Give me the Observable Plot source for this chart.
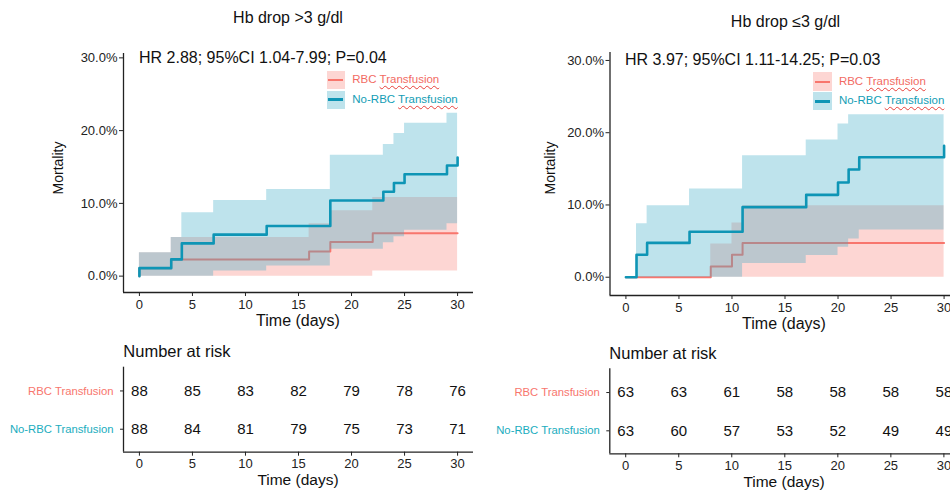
<!DOCTYPE html>
<html>
<head>
<meta charset="utf-8">
<script src="https://cdn.jsdelivr.net/npm/d3@7"></script>
<script src="https://cdn.jsdelivr.net/npm/@observablehq/plot@0.6"></script>
<style>
  html, body { margin: 0; padding: 0; background: #fff; }
  #page { position: relative; width: 950px; height: 492px; overflow: hidden; background: #fff;
          font-family: "Liberation Sans", Arial, Helvetica, sans-serif; color: #111; }
  .abs { position: absolute; white-space: nowrap; line-height: 1; }
  .wavy { text-decoration: underline wavy #e8403a; text-decoration-thickness: 1px; text-underline-offset: 2px; }
</style>
</head>
<body>
<div id="page"></div>
<script>
// ---------------- data ----------------
const xTicks = [0, 5, 10, 15, 20, 25, 30];
const yTicks = [0, 10, 20, 30];
const groups = ["RBC Transfusion", "No-RBC Transfusion"];

// Left panel: Hb drop >3 g/dl (cumulative mortality %, 95% CI)
const leftRbcTime  = [0, 0, 3, 16, 18, 22, 30];
const leftRbcEst   = [0, 1.1, 2.3, 3.4, 4.7, 5.9, 5.9];
const leftRbcLower = [0, 0, 0, 0, 0, 0.7, 0.7];
const leftRbcUpper = [0, 3.2, 5.3, 7.2, 9.0, 10.8, 10.8];

const leftNoTime  = [0, 0, 3, 4, 7, 12, 18, 23, 24, 25, 29, 30];
const leftNoEst   = [0, 1.1, 2.3, 4.5, 5.7, 6.9, 10.4, 11.6, 12.8, 14.0, 15.2, 16.3];
const leftNoLower = [0, 0, 0, 0, 0.7, 1.4, 3.7, 4.6, 5.4, 6.3, 7.2, 7.2];
const leftNoUpper = [0, 3.2, 5.3, 8.7, 10.4, 11.9, 16.6, 18.1, 19.6, 21.0, 22.4, 22.4];

const leftRiskRbc = [88, 85, 83, 82, 79, 78, 76];
const leftRiskNo  = [88, 84, 81, 79, 75, 73, 71];

// Right panel: Hb drop ≤3 g/dl
const rightRbcTime  = [0, 8, 10, 11, 30];
const rightRbcEst   = [0, 1.5, 3.1, 4.75, 4.75];
const rightRbcLower = [0, 0, 0, 0, 0];
const rightRbcUpper = [0, 4.6, 7.5, 9.9, 9.9];

const rightNoTime  = [0, 1, 2, 6, 11, 17, 20, 21, 22, 30];
const rightNoEst   = [0, 3.1, 4.75, 6.3, 9.7, 11.4, 13.1, 14.9, 16.6, 18.2];
const rightNoLower = [0, 0, 0, 0, 1.9, 3.0, 4.15, 5.3, 6.55, 6.55];
const rightNoUpper = [0, 7.4, 9.9, 12.2, 16.8, 19.0, 21.2, 22.5, 22.5, 22.5];

const rightRiskRbc = [63, 63, 61, 58, 58, 58, 58];
const rightRiskNo  = [63, 60, 57, 53, 52, 49, 49];

// ---------------- styles ----------------
const FONT = '"Liberation Sans", Arial, Helvetica, sans-serif';
const RED = "#F8766D";
const PINK_OP = 0.3;
const BLUE = "#0E95B5";
const BLUE_BAND = "#3BAAC5";
const BLUE_OP = 0.33;
const AX = "#222";
const RED_TXT = "#F8766D";
const TEAL_TXT = "#1AADBE";

const rows = (t, e, lo, hi) => t.map((time, i) => ({time, est: e[i], lower: lo[i], upper: hi[i]}));
const riskRows = (rbc, no) => xTicks.flatMap((time, i) => [
  {time, row: 0, n: rbc[i]},
  {time, row: 1, n: no[i]}
]);

const page = document.getElementById("page");

function place(node, left, top, width) {
  const d = document.createElement("div");
  d.className = "abs";
  d.style.left = left + "px";
  d.style.top = top + "px";
  d.style.width = width + "px";
  node.style.maxWidth = "none";
  node.style.background = "transparent";
  d.appendChild(node);
  page.appendChild(d);
}

function label(text, x, y, {size = 14, anchor = "middle", rotate = 0, color = "#111", html = false} = {}) {
  const d = document.createElement("div");
  d.className = "abs";
  d.style.fontSize = size + "px";
  d.style.color = color;
  d.style.left = x + "px";
  d.style.top = y + "px";
  const tx = anchor === "middle" ? "-50%" : anchor === "end" ? "-100%" : "0";
  d.style.transform = `translate(${tx}, -50%)` + (rotate ? ` rotate(${rotate}deg)` : "");
  if (html) d.innerHTML = text; else d.textContent = text;
  page.appendChild(d);
}

function kmPlot({rbc, no, xDomain, yDomain, width, height, marginLeft, marginRight, marginTop, marginBottom}) {
  return Plot.plot({
    width, height, marginLeft, marginRight, marginTop, marginBottom,
    style: {fontFamily: FONT, fontSize: "13px", color: AX, background: "transparent"},
    x: {domain: xDomain},
    y: {domain: yDomain},
    marks: [
      Plot.areaY(rbc, {x: "time", y1: "lower", y2: "upper", curve: "step-after", fill: RED, fillOpacity: PINK_OP}),
      Plot.line(rbc, {x: "time", y: "est", curve: "step-after", stroke: RED, strokeWidth: 2}),
      Plot.areaY(no, {x: "time", y1: "lower", y2: "upper", curve: "step-after", fill: BLUE_BAND, fillOpacity: BLUE_OP}),
      Plot.line(no, {x: "time", y: "est", curve: "step-after", stroke: BLUE, strokeWidth: 2.6}),
      Plot.ruleX([xDomain[0]], {stroke: AX, strokeWidth: 1.3}),
      Plot.ruleY([yDomain[0]], {stroke: AX, strokeWidth: 1.3}),
      Plot.axisX({ticks: xTicks, tickSize: 4, tickPadding: 3, label: null, tickFormat: d => String(d), fontSize: 13, color: AX}),
      Plot.axisY({ticks: yTicks, tickSize: 4, tickPadding: 2, label: null, tickFormat: d => d.toFixed(1) + "%", fontSize: 13, color: AX})
    ]
  });
}

// rows are indexed 0 (RBC) and 1 (No-RBC); the y domain adds ggplot-like padding around them
const riskYDomain = [1.6, -0.62];

function riskPlot({data, xDomain, width, height, marginLeft, marginRight, marginTop, marginBottom}) {
  return Plot.plot({
    width, height, marginLeft, marginRight, marginTop, marginBottom,
    style: {fontFamily: FONT, fontSize: "13px", color: AX, background: "transparent"},
    x: {domain: xDomain},
    y: {domain: riskYDomain},
    marks: [
      Plot.text(data, {x: "time", y: "row", text: "n", fontSize: 15, fill: "#111"}),
      Plot.text([0], {y: d => d, text: () => groups[0], frameAnchor: "left", dx: -10, textAnchor: "end", fill: RED_TXT, fontSize: 11.3}),
      Plot.text([1], {y: d => d, text: () => groups[1], frameAnchor: "left", dx: -10, textAnchor: "end", fill: TEAL_TXT, fontSize: 11.3}),
      Plot.ruleX([xDomain[0]], {stroke: AX, strokeWidth: 1.3}),
      Plot.ruleY([riskYDomain[0]], {stroke: AX, strokeWidth: 1.3}),
      Plot.axisX({ticks: xTicks, tickSize: 4, tickPadding: 3, label: null, tickFormat: d => String(d), fontSize: 13, color: AX}),
      Plot.axisY({ticks: [0, 1], tickSize: 3, label: null, tickFormat: () => "", color: AX})
    ]
  });
}

const xDom = [-1.5, 31.5];

// ---------------- left panel ----------------
place(kmPlot({
  rbc: rows(leftRbcTime, leftRbcEst, leftRbcLower, leftRbcUpper),
  no: rows(leftNoTime, leftNoEst, leftNoLower, leftNoUpper),
  xDomain: xDom, yDomain: [-2.25, 30.6],
  width: 480, height: 330, marginLeft: 123, marginRight: 7, marginTop: 53, marginBottom: 38
}), 0, 0, 480);

place(riskPlot({
  data: riskRows(leftRiskRbc, leftRiskNo), xDomain: xDom,
  width: 480, height: 132, marginLeft: 123, marginRight: 7, marginTop: 6.7, marginBottom: 40.3
}), 0, 360, 480);

// ---------------- right panel ----------------
place(kmPlot({
  rbc: rows(rightRbcTime, rightRbcEst, rightRbcLower, rightRbcUpper),
  no: rows(rightNoTime, rightNoEst, rightNoLower, rightNoUpper),
  xDomain: xDom, yDomain: [-2.53, 31.1],
  width: 490, height: 335, marginLeft: 129.5, marginRight: 10.5, marginTop: 52, marginBottom: 40
}), 480, 0, 490);

place(riskPlot({
  data: riskRows(rightRiskRbc, rightRiskNo), xDomain: xDom,
  width: 490, height: 132, marginLeft: 129.3, marginRight: 10.7, marginTop: 8.3, marginBottom: 38.7
}), 480, 360, 490);

// ---------------- text & legends ----------------
label("Hb drop >3 g/dl", 288, 18, {size: 16});
label("Hb drop ≤3 g/dl", 785.5, 21.5, {size: 16});
label("Mortality", 57.5, 168, {size: 14, rotate: -90});
label("Mortality", 550, 168, {size: 14, rotate: -90});
label("HR 2.88; 95%CI 1.04-7.99; P=0.04", 139, 57.5, {size: 16, anchor: "start"});
label("HR 3.97; 95%CI 1.11-14.25; P=0.03", 625, 59.5, {size: 16, anchor: "start"});
label("Time (days)", 298, 321, {size: 16});
label("Time (days)", 784, 324, {size: 16});
label("Number at risk", 123.3, 350.7, {size: 16.5, anchor: "start"});
label("Number at risk", 609.3, 352.7, {size: 16.5, anchor: "start"});
label("Time (days)", 298, 480, {size: 15.5});
label("Time (days)", 784, 481.7, {size: 15.5});

function legend(x, y, gap) {
  const items = [
    {name: "RBC", fill: `rgba(248,118,109,${PINK_OP})`, line: RED, lw: 2, txt: "#F26B63"},
    {name: "No-RBC", fill: `rgba(59,170,197,${BLUE_OP})`, line: BLUE, lw: 3, txt: "#139DB5"}
  ];
  items.forEach((it, i) => {
    const top = y + i * gap;
    const key = document.createElement("div");
    key.className = "abs";
    Object.assign(key.style, {left: x + "px", top: top + "px", width: "18.3px", height: "18.5px", background: it.fill});
    const ln = document.createElement("div");
    ln.className = "abs";
    Object.assign(ln.style, {left: "1.5px", right: "1.5px", top: (9.25 - it.lw / 2) + "px", height: it.lw + "px", background: it.line});
    key.appendChild(ln);
    page.appendChild(key);
    label(`${it.name} <span class="wavy">Transfusion</span>`, x + 25.6, top + 9.3, {size: 11.5, anchor: "start", color: it.txt, html: true});
  });
}
legend(326.7, 70.7, 20);
legend(813.3, 72.3, 19.6);
</script>
</body>
</html>
